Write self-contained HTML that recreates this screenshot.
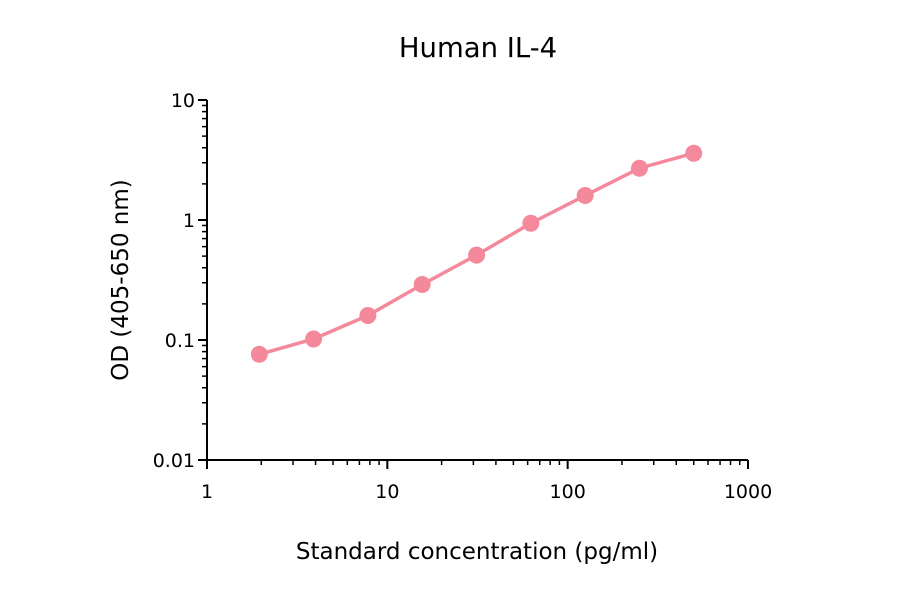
<!DOCTYPE html>
<html><head><meta charset="utf-8"><style>
body{margin:0;background:#fff;}
svg{display:block;font-family:"DejaVu Sans","Liberation Sans",sans-serif;}
</style></head><body>
<svg id="chart" width="900" height="594">
<text x="478" y="57" font-size="27.5" text-anchor="middle" fill="#000">Human IL-4</text>
<text x="477" y="559" font-size="23" text-anchor="middle" fill="#000">Standard concentration (pg/ml)</text>
<text transform="translate(128,280) rotate(-90)" font-size="23" text-anchor="middle" fill="#000">OD (405-650 nm)</text>
<g id="axes"></g><g id="series"></g>
</svg>
<script>
const concentrations=[1.95,3.9,7.8,15.6,31.25,62.5,125,250,500];
const odValues=[0.076,0.102,0.16,0.29,0.51,0.94,1.6,2.7,3.6];
const xTickValues=[1,10,100,1000];
const xTickLabels=["1","10","100","1000"];
const yTickValues=[0.01,0.1,1,10];
const yTickLabels=["0.01","0.1","1","10"];
const NS="http://www.w3.org/2000/svg";
const X0=207,X1=748,Y0=460,Y1=100;
function xs(v){return X0+(Math.log10(v)-0)/3*(X1-X0);}
function ys(v){return Y0-(Math.log10(v)+2)/3*(Y0-Y1);}
function mk(t,a,p){const e=document.createElementNS(NS,t);for(const k in a)e.setAttribute(k,a[k]);p.appendChild(e);return e;}
const ax=document.getElementById('axes');
const yl=mk('line',{x1:X0,y1:Y1,x2:X0,y2:Y0,stroke:'#000','stroke-width':2},ax);


const xl=mk('line',{x1:X0-9,y1:Y0,x2:X1,y2:Y0,stroke:'#000','stroke-width':2},ax);


for(let d=0;d<3;d++){for(let m=2;m<=9;m++){
 const xv=Math.pow(10,d)*m;
 mk('line',{x1:xs(xv),y1:Y0,x2:xs(xv),y2:Y0+5,stroke:'#000','stroke-width':1.5},ax);
 const yv=Math.pow(10,d-2)*m;
 mk('line',{x1:X0-5,y1:ys(yv),x2:X0,y2:ys(yv),stroke:'#000','stroke-width':1.5},ax);
}}
xTickValues.forEach((v,i)=>{
 mk('line',{x1:xs(v),y1:Y0,x2:xs(v),y2:Y0+9,stroke:'#000','stroke-width':2},ax);
 const t=mk('text',{x:xs(v),y:Y0+38,'font-size':19,'text-anchor':'middle'},ax);t.textContent=xTickLabels[i];
 
 
});
yTickValues.forEach((v,i)=>{
 mk('line',{x1:X0-9,y1:ys(v),x2:X0,y2:ys(v),stroke:'#000','stroke-width':2},ax);
 const t=mk('text',{x:X0-12,y:ys(v)+7,'font-size':19,'text-anchor':'end'},ax);t.textContent=yTickLabels[i];
 
 
});
const sg=document.getElementById('series');
const pts=concentrations.map((c,i)=>xs(c)+','+ys(odValues[i])).join(' ');
const pl=mk('polyline',{points:pts,fill:'none',stroke:'#f4899b','stroke-width':3.5},sg);


concentrations.forEach((c,i)=>{
 const p=mk('circle',{cx:xs(c),cy:ys(odValues[i]),r:8.5,fill:'#f4899b'},sg);
 
 
});
</script>
</body></html>
